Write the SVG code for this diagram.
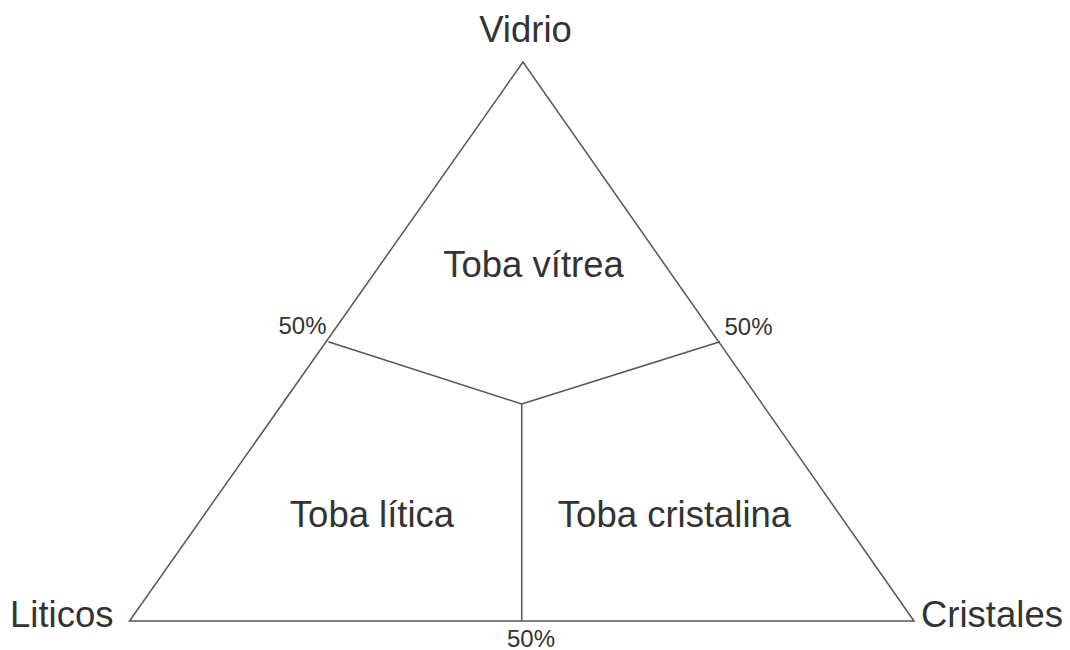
<svg xmlns="http://www.w3.org/2000/svg" width="1070" height="650" viewBox="0 0 1070 650">
<style>
.ln{stroke:#555;stroke-width:1.5;fill:none}
.t{font-family:"Liberation Sans",Arial,sans-serif;fill:#333}
.big{font-size:36.5px}
.sm{font-size:24px}
</style>
<rect width="1070" height="650" fill="#fff"/>
<g id="connectors">
<polygon class="ln" points="523,62 129.5,621 914,621"/>
<line class="ln" x1="328.3" y1="341.7" x2="521.7" y2="404"/>
<line class="ln" x1="720" y1="341.7" x2="521.7" y2="404"/>
<line class="ln" x1="521.7" y1="404" x2="521.7" y2="621"/>
</g>
<g id="vidrio"><text class="t big" x="525.5" y="42" text-anchor="middle">Vidrio</text></g>
<g id="liticos"><text class="t big" x="10" y="627">Liticos</text></g>
<g id="cristales"><text class="t big" x="921" y="627">Cristales</text></g>
<g id="p50-left"><text class="t sm" x="278.5" y="334">50%</text></g>
<g id="p50-right"><text class="t sm" x="724.5" y="335">50%</text></g>
<g id="p50-bottom"><text class="t sm" x="531" y="647" text-anchor="middle">50%</text></g>
<g id="toba-vitrea"><text class="t big" x="533.5" y="277" text-anchor="middle">Toba vítrea</text></g>
<g id="toba-litica"><text class="t big" x="372" y="527" text-anchor="middle">Toba lítica</text></g>
<g id="toba-cristalina"><text class="t big" x="674.5" y="527" text-anchor="middle">Toba cristalina</text></g>
</svg>
